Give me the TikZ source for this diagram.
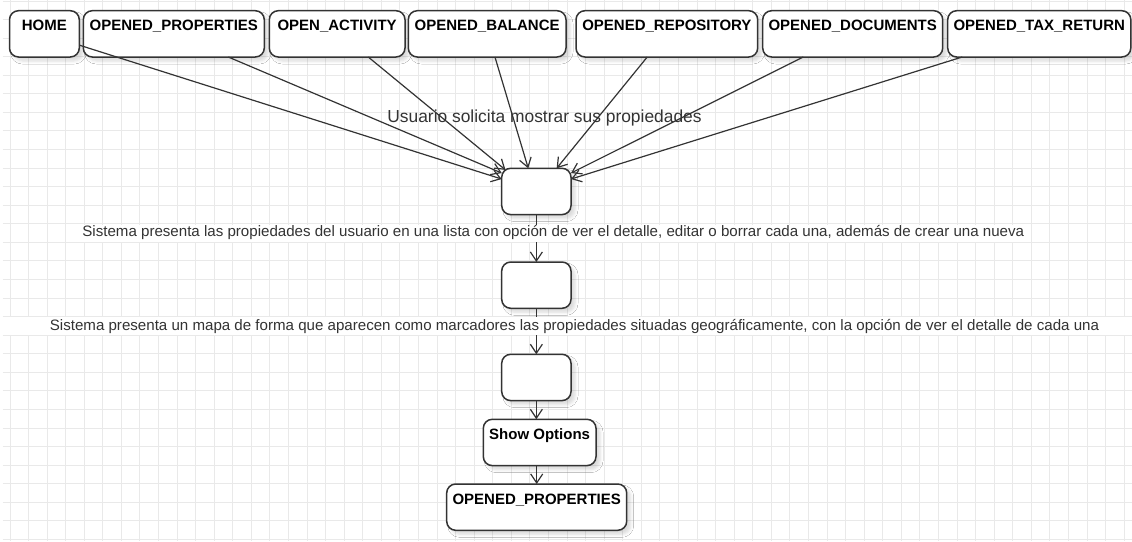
\documentclass[tikz,border=0pt]{standalone}
\usepackage{fontspec}
\setmainfont{Liberation Sans}
\usetikzlibrary{arrows.meta,calc,shadows.blur}

\begin{document}
\begin{tikzpicture}[x=1pt,y=-1pt,
  gridline/.style={draw=gray!17, line width=1pt},
  ink/.style={draw=black!80},
  state/.style={ink, line width=1.5pt, fill=white, rounded corners=9pt,
    outer sep=0pt, inner xsep=0pt, inner ysep=0pt, anchor=north west,
    text height=20pt, text depth=26.3pt,
    font=\fontsize{15}{18}\selectfont\bfseries,
    blur shadow={shadow xshift=4pt, shadow yshift=-4pt,
      shadow blur radius=3pt, shadow opacity=14}},
  flow/.style={ink, line width=1.2pt, -{Straight Barb[length=9pt,width=12pt]}},
  caption/.style={text=black!80, inner sep=0pt, anchor=base},
]
\useasboundingbox (0,0) rectangle (1132,541);
\fill[white] (0,0) rectangle (1132,541);

% background grid
\foreach \k in {0,...,60}
  \draw[gridline] ({10+18.57*\k},0) -- ({10+18.57*\k},541);
\foreach \k in {0,...,29}
  \draw[gridline] (2.7,{1+18.57*\k}) -- (1132,{1+18.57*\k});

% screens reached from the menu
\node[state, minimum width=69.8pt]  (home)   at (9.5,10.7)   {HOME};
\node[state, minimum width=181pt]   (opprop) at (83.3,10.7)  {OPENED\_PROPERTIES};
\node[state, minimum width=135.7pt] (opact)  at (269.3,10.7) {OPEN\_ACTIVITY};
\node[state, minimum width=157.7pt] (opbal)  at (408.3,10.7) {OPENED\_BALANCE};
\node[state, minimum width=181.7pt] (oprepo) at (576,10.7)   {OPENED\_REPOSITORY};
\node[state, minimum width=180pt]   (opdocs) at (762.7,10.7) {OPENED\_DOCUMENTS};
\node[state, minimum width=183.1pt] (optax)  at (947.7,10.7) {OPENED\_TAX\_RETURN};

% main flow
\node[state, minimum width=69.3pt]  (list)  at (501.7,168.3) {};
\node[state, minimum width=69.3pt]  (map)   at (501.7,262)   {};
\node[state, minimum width=69.3pt]  (pick)  at (501.7,354.3) {};
\node[state, minimum width=112.7pt] (show)  at (483.3,419.3) {Show Options};
\node[state, minimum width=180pt]   (back)  at (446.7,484)   {OPENED\_PROPERTIES};

% incoming transitions
\draw[flow] ($(home.east)+(0,11.3)$)    -- ($(list.west)+(0,-12.4)$);
\draw[flow] ($(opprop.south)+(54.5,0)$) -- ($(list.west)+(0,-18.4)$);
\draw[flow] ($(opact.south)+(31.1,0)$)  -- ($(list.north west)+(3.8,1.6)$);
\draw[flow] ($(opbal.south)+(7.8,0)$)   -- ($(list.north)+(-8.1,0)$);
\draw[flow] ($(oprepo.south)+(-19.6,0)$) -- ($(list.north)+(20.3,0)$);
\draw[flow] ($(opdocs.south)+(-49.4,0)$) -- ($(list.east)+(0,-18.4)$);
\draw[flow] ($(optax.south)+(-77,0)$)   -- ($(list.east)+(0,-12.4)$);

\draw[flow] (list.south) -- (map.north);
\draw[flow] (map.south)  -- (pick.north);
\draw[flow] (pick.south) -- (pick.south |- show.north);
\draw[flow] (show.south -| back.north) -- (back.north);

% descriptions
\node[caption, font=\fontsize{17.4}{20}\selectfont] (askcap) at (544.5,122.7)
  {Usuario solicita mostrar sus propiedades};
\node[caption, fill=white, inner xsep=0.5pt, text height=12.2pt, text depth=5.1pt,
  font=\fontsize{15.1}{18}\selectfont] (listcap) at (553.3,236.7)
  {Sistema presenta las propiedades del usuario en una lista con opción de ver el detalle, editar o borrar cada una, además de crear una nueva};
\fill[white] (0,317.3) rectangle (1132,334.8);
\node[caption, font=\fontsize{15.1}{18}\selectfont] (mapcap) at (574.5,330)
  {Sistema presenta un mapa de forma que aparecen como marcadores las propiedades situadas geográficamente, con la opción de ver el detalle de cada una};
\end{tikzpicture}
\end{document}
